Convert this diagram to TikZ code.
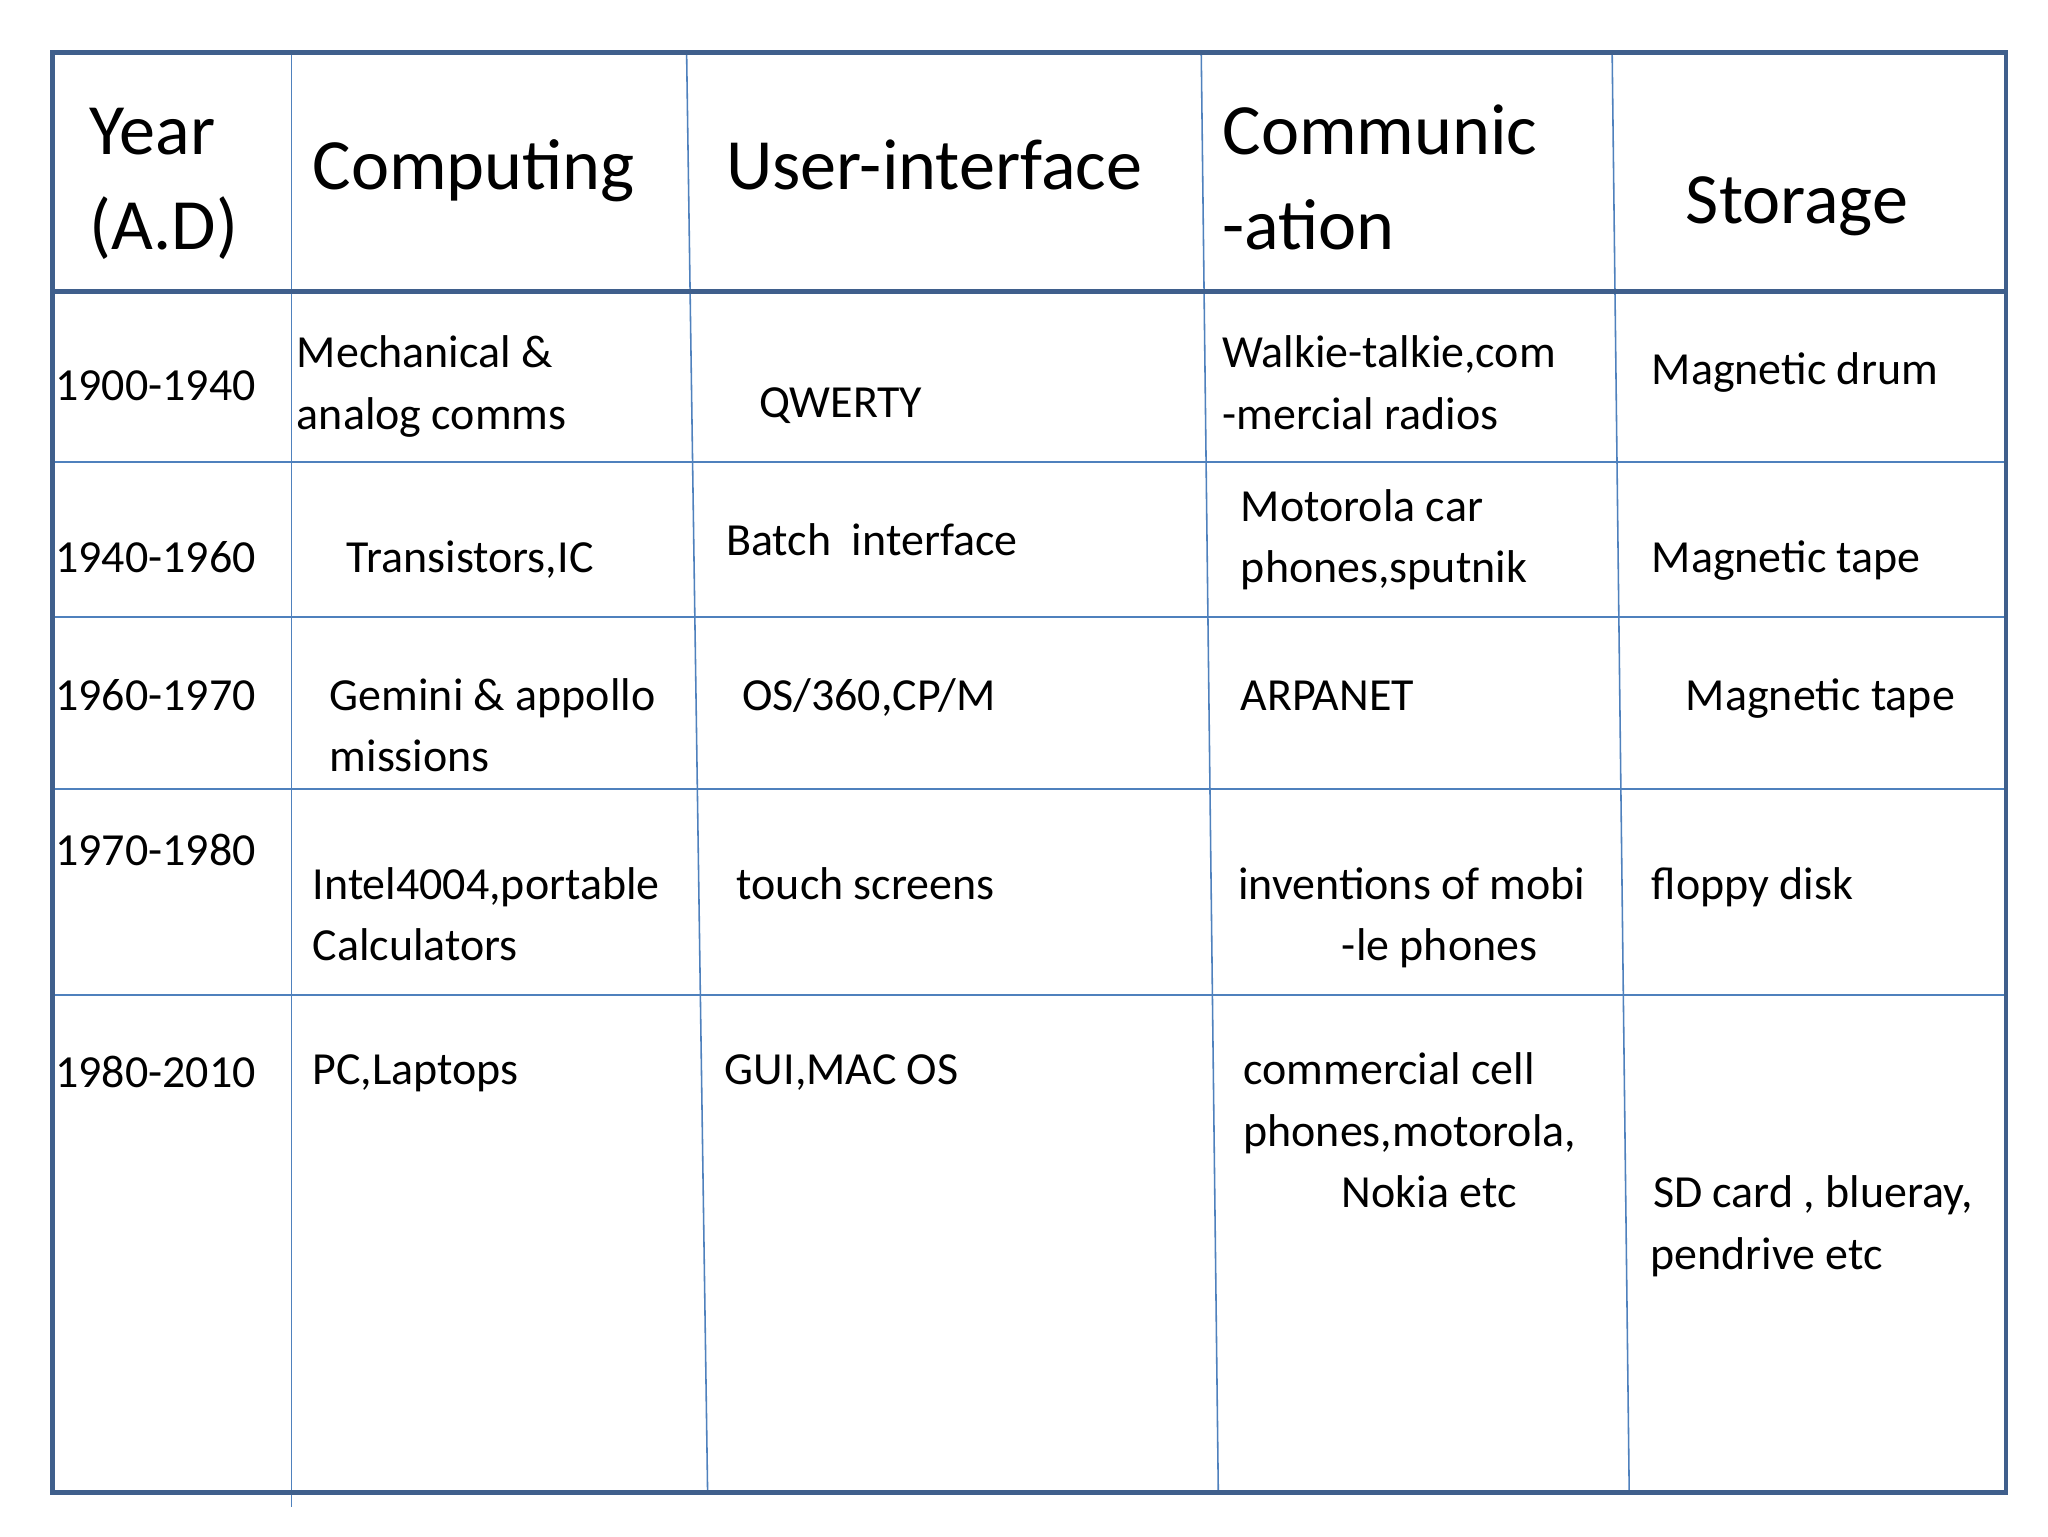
\documentclass[tikz,border=0pt]{standalone}
\usepackage{fontspec}
\setmainfont{Carlito}
\begin{document}
\begin{tikzpicture}[x=1pt,y=-1pt,
  hd/.style={anchor=base west,inner sep=0pt,font=\fontsize{55}{60}\selectfont},
  bd/.style={anchor=base west,inner sep=0pt,font=\fontsize{35}{40}\selectfont},
  thin/.style={draw=blue!40!cyan!60!black!70,line width=1.2pt},
  thick/.style={draw=blue!50!black!70,line width=3pt}]
\definecolor{ln}{HTML}{4F81BD}
\definecolor{bl}{HTML}{3F5F8C}
\tikzset{thin/.style={draw=ln,line width=1.2pt},thick/.style={draw=bl,line width=3.5pt}}
\fill[white] (0,0) rectangle (1560,1170);
\useasboundingbox (0,0) rectangle (1560,1170);
% inner lines
\coordinate (v1a) at (222,40); \coordinate (v1b) at (222,1148);
\coordinate (v2a) at (523,40); \coordinate (v2b) at (539,1137);
\coordinate (v3a) at (915,40); \coordinate (v3b) at (928,1137);
\coordinate (v4a) at (1228,40); \coordinate (v4b) at (1241,1137);
\draw[thin] (v1a)--(v1b); \draw[thin] (v2a)--(v2b); \draw[thin] (v3a)--(v3b); \draw[thin] (v4a)--(v4b);
\foreach \y in {352,470,601,758} \draw[thin] (40,\y)--(1528,\y);
\draw[thick] (40,222)--(1528,222);
\draw[thick] (40,40) rectangle (1528,1137);
% header
\node[hd] (h1) at (68,118) {Year};
\node[hd] (h1b) at (68,190) {(A.D)};
\node[hd] (h2) at (238,144) {Computing};
\node[hd] (h3) at (553,144) {User-interface};
\node[hd] (h4) at (931,118) {Communic};
\node[hd] (h4b) at (931,190) {-ation};
\node[hd] (h5) at (1284,170) {Storage};
% row1
\node[bd] at (42,305) {1900-1940};
\node[bd] at (226,280) {Mechanical \&};
\node[bd] at (226,327) {analog comms};
\node[bd] at (578,318) {QWERTY};
\node[bd] at (931,280) {Walkie-talkie,com};
\node[bd] at (931,327) {-mercial radios};
\node[bd] at (1258,293) {Magnetic drum};
% row2
\node[bd] at (42,436) {1940-1960};
\node[bd] at (264,436) {Transistors,IC};
\node[bd] at (553,423) {Batch\ \ interface};
\node[bd] at (945,397) {Motorola car};
\node[bd] at (945,444) {phones,sputnik};
\node[bd] at (1258,436) {Magnetic tape};
% row3
\node[bd] at (42,541) {1960-1970};
\node[bd] at (251,541) {Gemini \& appollo};
\node[bd] at (251,588) {missions};
\node[bd] at (565,541) {OS/360,CP/M};
\node[bd] at (945,541) {ARPANET};
\node[bd] at (1284,541) {Magnetic tape};
% row4
\node[bd] at (42,659) {1970-1980};
\node[bd] at (238,685) {Intel4004,portable};
\node[bd] at (238,732) {Calculators};
\node[bd] at (561,685) {touch screens};
\node[bd] at (943,685) {inventions of mobi};
\node[bd] at (1022,732) {-le phones};
\node[bd] at (1258,685) {floppy disk};
% row5
\node[bd] at (42,828) {1980-2010};
\node[bd] at (238,826) {PC,Laptops};
\node[bd] at (552,826) {GUI,MAC OS};
\node[bd] at (947,826) {commercial cell};
\node[bd] at (947,873) {phones,motorola,};
\node[bd] at (1022,920) {Nokia etc};
\node[bd] at (1259,920) {SD card , blueray,};
\node[bd] at (1257,967) {pendrive etc};
\end{tikzpicture}
\end{document}
